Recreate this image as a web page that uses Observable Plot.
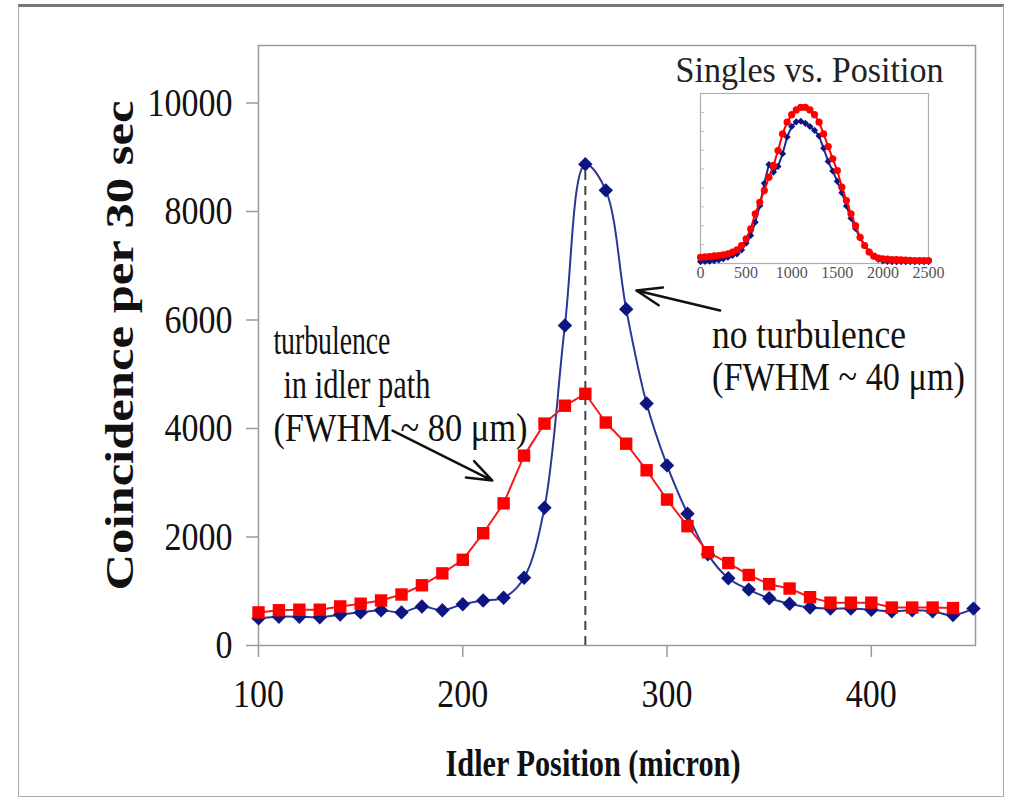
<!DOCTYPE html>
<html><head><meta charset="utf-8">
<script src="https://cdn.jsdelivr.net/npm/d3@7"></script>
<script src="https://cdn.jsdelivr.net/npm/@observablehq/plot@0.6"></script>
<style>
html,body{margin:0;padding:0;background:#fff;}
#wrap{position:relative;width:1009px;height:801px;overflow:hidden;background:#fff;}
#border{position:absolute;left:18px;top:4px;width:986px;height:793px;border:1px solid #aaa;border-top:3px solid #777;box-sizing:border-box;}
#main{position:absolute;left:0;top:0;}
#inset{position:absolute;left:660px;top:30px;}
</style></head><body>
<div id="wrap"><div id="border"></div><div id="main"></div><div id="inset"></div></div>
<script>
// ---- main chart data ----
const positions = [100,110,120,130,140,150,160,170,180,190,200,210,220,230,240,250,260,270,280,290,300,310,320,330,340,350,360,370,380,390,400,410,420,430,440,450];
const noTurbulence = [500,530,530,520,570,610,650,610,720,650,760,830,880,1250,2540,5900,8870,8390,6200,4460,3320,2430,1680,1240,1030,870,770,700,680,680,660,630,650,630,560,680];
const redPositions = [100,110,120,130,140,150,160,170,180,190,200,210,220,230,240,250,260,270,280,290,300,310,320,330,340,350,360,370,380,390,400,410,420,430,440];
const turbulence = [610,650,660,660,720,770,830,940,1110,1330,1580,2070,2620,3500,4090,4420,4640,4110,3720,3230,2690,2200,1720,1520,1300,1130,1050,890,790,790,790,700,700,700,690];
const xTicks = [100,200,300,400];
const yTicks = [0,2000,4000,6000,8000,10000];
const xTitle = "Idler Position (micron)";
const yTitle = "Coincidence per 30 sec";
// annotations (data coordinates)
const noteText = ["no turbulence","(FWHM ~ 40 μm)","turbulence","in idler path","(FWHM ~ 80 μm)"];
const noteX = [322,322,107.3,112.2,107.3];
const noteY = [5714,4940,5604,4793,4000];
const arrowFromX = [326,165.6], arrowFromY = [6175,3963];
const arrowToX = [285,214.5], arrowToY = [6544,3041];

// ---- inset data ----
const insetTitle = "Singles vs. Position";
const insetPos = [0,50,100,150,200,250,300,350,400,450,500,550,600,650,700,750,800,850,900,950,1000,1050,1100,1150,1200,1250,1300,1350,1400,1450,1500,1550,1600,1650,1700,1750,1800,1850,1900,1950,2000,2050,2100,2150,2200,2250,2300,2350,2400,2450,2500];
const insetRed = [0.33,0.35,0.37,0.40,0.42,0.46,0.51,0.60,0.72,0.95,1.30,1.83,2.63,3.24,3.86,4.57,5.19,5.98,6.86,7.48,7.88,8.13,8.27,8.27,8.13,7.88,7.48,6.86,6.19,5.54,4.92,4.04,3.33,2.63,2.01,1.39,0.95,0.60,0.39,0.28,0.25,0.23,0.21,0.20,0.19,0.18,0.17,0.16,0.16,0.16,0.16];
const insetBlue = [0.10,0.11,0.12,0.15,0.19,0.25,0.33,0.42,0.51,0.72,1.07,1.48,2.18,3.06,4.25,5.24,4.84,5.14,5.81,6.70,7.25,7.50,7.53,7.42,7.25,7.05,6.75,6.10,5.40,4.90,4.35,3.75,3.05,2.40,1.85,1.35,0.95,0.62,0.38,0.22,0.14,0.11,0.10,0.10,0.10,0.09,0.09,0.09,0.09,0.09,0.09];
const insetXTicks = [0,500,1000,1500,2000,2500];
const insetYTicks = [1,2,3,4,5,6,7,8];

const blueData = positions.map((x,i)=>({x, y: noTurbulence[i]}));
const redData = redPositions.map((x,i)=>({x, y: turbulence[i]}));
const notes = noteText.map((t,i)=>({text:t, x:noteX[i], y:noteY[i]}));
const arrows = arrowFromX.map((x1,i)=>({x1, y1:arrowFromY[i], x2:arrowToX[i], y2:arrowToY[i]}));
const peakY = d3.max(noTurbulence);
const peakX = positions[noTurbulence.indexOf(peakY)];

const serif = "'Liberation Serif', 'Times New Roman', serif";
const BLUE = "#0c1580", BLUE_LINE = "#2a3796", RED = "#ff0000";

const main = Plot.plot({
  width: 1009, height: 801,
  marginLeft: 258, marginRight: 34, marginTop: 45, marginBottom: 156,
  x: {domain: [100, 451]},
  y: {domain: [0, 11060]},
  style: {fontFamily: serif, background: "transparent", color: "#111"},
  marks: [
    Plot.frame({stroke: "#9a9a9a", strokeWidth: 1.5}),
    Plot.axisY(yTicks, {tickSize: 12, tickPadding: 14, fontSize: 40, stroke: "#9a9a9a", strokeWidth: 1.5, fill: "#111", label: null, tickFormat: d => String(d)}),
    Plot.axisX(xTicks, {tickSize: 12, tickPadding: 21, fontSize: 40, stroke: "#9a9a9a", strokeWidth: 1.5, fill: "#111", label: null, tickFormat: d => String(d)}),
    Plot.ruleX([peakX], {y1: 0, y2: peakY, stroke: "#444", strokeWidth: 2, strokeDasharray: "9,6"}),
    Plot.line(blueData, {x: "x", y: "y", stroke: BLUE_LINE, strokeWidth: 2, curve: "catmull-rom"}),
    Plot.dot(blueData, {x: "x", y: "y", symbol: "diamond2", r: 6.5, fill: BLUE, stroke: "none"}),
    Plot.line(redData, {x: "x", y: "y", stroke: "#f01e1e", strokeWidth: 2}),
    Plot.dot(redData, {x: "x", y: "y", symbol: "square", r: 7, fill: RED, stroke: "none"}),
    Plot.arrow(arrows, {x1: "x1", y1: "y1", x2: "x2", y2: "y2", stroke: "#111", strokeWidth: 2.5, headLength: 16, headAngle: 40}),
    Plot.text(notes, {x: "x", y: "y", text: "text", textAnchor: "start", fontSize: 40, fill: "#111"}),
    Plot.text([yTitle], {text: d => d, frameAnchor: "bottom-left", rotate: -90, textAnchor: "start", dx: -138, dy: -55, lineAnchor: "middle", fontSize: 40, fontWeight: "bold", fill: "#111"}),
    Plot.text([xTitle], {text: d => d, frameAnchor: "bottom", dx: -24, dy: 118, lineAnchor: "middle", fontSize: 38, fontWeight: "bold", fill: "#111"})
  ]
});
document.getElementById("main").appendChild(main);

const inset = Plot.plot({
  width: 300, height: 260,
  marginLeft: 40, marginRight: 32, marginTop: 63, marginBottom: 27,
  x: {domain: [0, 2500]},
  y: {domain: [0, 9], axis: null},
  style: {fontFamily: serif, background: "transparent", color: "#111"},
  marks: [
    Plot.frame({fill: "white", stroke: "#b0b0b0", strokeWidth: 1.2}),
    Plot.tickY(insetYTicks, {y: d => d, stroke: "#bbb", insetRight: 224}),
    Plot.axisX(insetXTicks, {tickSize: 0, tickPadding: 3, fontSize: 16, fill: "#555", label: null, tickFormat: d => String(d)}),
    Plot.line(insetPos.map((x,i)=>({x, y: insetBlue[i]})), {x: "x", y: "y", stroke: "#1b2a8f", strokeWidth: 2}),
    Plot.dot(insetPos.map((x,i)=>({x, y: insetBlue[i]})), {x: "x", y: "y", symbol: "diamond2", r: 3.2, fill: BLUE, stroke: "none"}),
    Plot.line(insetPos.map((x,i)=>({x, y: insetRed[i]})), {x: "x", y: "y", stroke: RED, strokeWidth: 2}),
    Plot.dot(insetPos.map((x,i)=>({x, y: insetRed[i]})), {x: "x", y: "y", r: 3.6, fill: RED, stroke: "none"}),
    Plot.text([insetTitle], {text: d => d, frameAnchor: "top", dx: -5, dy: -23, lineAnchor: "middle", fontSize: 36, fill: "#222"})
  ]
});
document.getElementById("inset").appendChild(inset);

// horizontal condensing / stretching of the serif text to match the original typesetting
const targets = {
  "Coincidence per 30 sec": 490,
  "Idler Position (micron)": 295,
  "no turbulence": 194,
  "(FWHM ~ 40 μm)": 253,
  "turbulence": 117,
  "in idler path": 147,
  "(FWHM ~ 80 μm)": 254,
  "Singles vs. Position": 268
};
for (const svg of [main, inset]) {
  d3.select(svg).selectAll("text").each(function() {
    const t = this.textContent;
    if (targets[t] != null) {
      this.setAttribute("textLength", targets[t]);
      this.setAttribute("lengthAdjust", "spacingAndGlyphs");
    }
  });
}
d3.select(main).selectAll('g[aria-label="x-axis tick label"] text, g[aria-label="y-axis tick label"] text').each(function() {
  const L = this.getComputedTextLength();
  this.setAttribute("textLength", L * 0.85);
  this.setAttribute("lengthAdjust", "spacingAndGlyphs");
});
</script>
</body></html>
